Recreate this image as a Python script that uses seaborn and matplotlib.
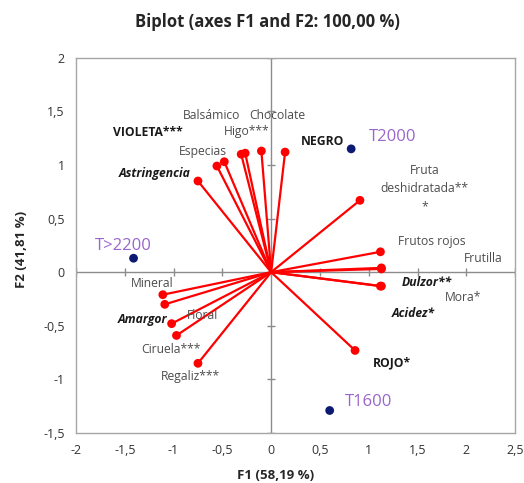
import pandas as pd
import matplotlib.pyplot as plt
import seaborn as sns

# variables (red vectors) - coordinates on F1 / F2
variables = ["Astringencia", "Especias", "VIOLETA***", "Balsámico", "Higo***", "Chocolate", "NEGRO",
             "Fruta\ndeshidratada**\n*", "Frutos rojos", "Frutilla", "Mora*", "Dulzor**", "Acidez*", "ROJO*",
             "Mineral", "Floral", "Amargor", "Ciruela***", "Regaliz***"]
var_f1 = [-0.75, -0.556, -0.48, -0.307, -0.266, -0.10, 0.143,
          0.91, 1.12, 1.13, 1.13, 1.13, 1.12, 0.86,
          -1.11, -1.09, -1.02, -0.97, -0.75]
var_f2 = [0.85, 0.99, 1.03, 1.10, 1.11, 1.13, 1.12,
          0.67, 0.19, 0.04, 0.03, -0.13, -0.13, -0.73,
          -0.21, -0.30, -0.48, -0.59, -0.85]

# observations (blue points)
observations = ["T>2200", "T2000", "T1600"]
obs_f1 = [-1.41, 0.82, 0.60]
obs_f2 = [0.13, 1.15, -1.29]

xticks = [-2, -1.5, -1, -0.5, 0, 0.5, 1, 1.5, 2, 2.5]
yticks = [-1.5, -1, -0.5, 0, 0.5, 1, 1.5, 2]

# label anchors (data coords) and text style
label_pos = {
    "Astringencia": (-1.19, 0.92), "Especias": (-0.70, 1.13), "VIOLETA***": (-1.26, 1.30),
    "Balsámico": (-0.61, 1.46), "Higo***": (-0.25, 1.31), "Chocolate": (0.06, 1.46),
    "NEGRO": (0.53, 1.22), "Fruta\ndeshidratada**\n*": (1.57, 0.78), "Frutos rojos": (1.65, 0.29),
    "Frutilla": (2.17, 0.13), "Mora*": (1.97, -0.24), "Dulzor**": (1.60, -0.10),
    "Acidez*": (1.46, -0.39), "ROJO*": (1.24, -0.85), "Mineral": (-1.22, -0.11),
    "Floral": (-0.70, -0.40), "Amargor": (-1.32, -0.44), "Ciruela***": (-1.03, -0.72),
    "Regaliz***": (-0.83, -0.97),
}
bold = {"VIOLETA***", "NEGRO", "ROJO*"}
bold_italic = {"Astringencia", "Dulzor**", "Acidez*", "Amargor"}
obs_label_pos = {"T>2200": (-1.51, 0.24), "T2000": (1.25, 1.26), "T1600": (1.0, -1.21)}

df_var = pd.DataFrame({"label": variables, "F1": var_f1, "F2": var_f2})
df_obs = pd.DataFrame({"label": observations, "F1": obs_f1, "F2": obs_f2})

sns.set_style("white")
plt.rcParams["font.family"] = ["Open Sans", "DejaVu Sans"]

fig = plt.figure(figsize=(5.24, 4.83), dpi=100)
ax = fig.add_axes([0.145, 0.1035, 0.838, 0.777])

# center axes with tick marks
ax.axhline(0, color="#8c8c8c", lw=1, zorder=1)
ax.axvline(0, color="#8c8c8c", lw=1, zorder=1)
ax.plot(xticks, [0] * len(xticks), ls="none", marker="|", ms=6, mew=1, color="#8c8c8c", zorder=1)
ax.plot([0] * len(yticks), yticks, ls="none", marker="_", ms=6, mew=1, color="#8c8c8c", zorder=1)

# vectors
for x, y in zip(var_f1, var_f2):
    ax.plot([0, x], [0, y], color="#ff0000", lw=1.6, zorder=2)
sns.scatterplot(data=df_var, x="F1", y="F2", color="#ff0000", s=40, edgecolor="none", zorder=3, ax=ax)
sns.scatterplot(data=df_obs, x="F1", y="F2", color="#0d1a73", s=40, edgecolor="none", zorder=3, ax=ax)

for name in variables:
    x, y = label_pos[name]
    if name in bold:
        kw = dict(fontweight="bold", color="#1a1a1a")
    elif name in bold_italic:
        kw = dict(fontweight="bold", fontstyle="italic", color="#1a1a1a")
    else:
        kw = dict(color="#4d4d4d")
    ax.text(x, y, name, ha="center", va="center", fontsize=8.7, linespacing=1.5, **kw)

for name in observations:
    x, y = obs_label_pos[name]
    ax.text(x, y, name, ha="center", va="center", fontsize=12, color="#9966cc")

ax.set_xlim(-2, 2.5)
ax.set_ylim(-1.5, 2)
ax.set_xticks(xticks)
ax.set_yticks(yticks)
fmt = lambda v: ("%g" % v).replace(".", ",")
ax.set_xticklabels([fmt(v) for v in xticks], fontsize=9, color="#333333")
ax.set_yticklabels([fmt(v) for v in yticks], fontsize=9, color="#333333")
ax.tick_params(length=0, pad=8)
for s in ax.spines.values():
    s.set_color("#a6a6a6")
    s.set_linewidth(1)

ax.set_xlabel("F1 (58,19 %)", fontweight="bold", fontsize=9.5)
ax.set_ylabel("F2 (41,81 %)", fontweight="bold", fontsize=9.5)
ax.xaxis.set_label_coords(0.455, -0.095)
ax.yaxis.set_label_coords(-0.11, 0.49)
ax.set_title("Biplot (axes F1 and F2: 100,00 %)", fontweight="bold", fontsize=12, pad=22, x=0.435)

fig.savefig("out.png", dpi=100)
